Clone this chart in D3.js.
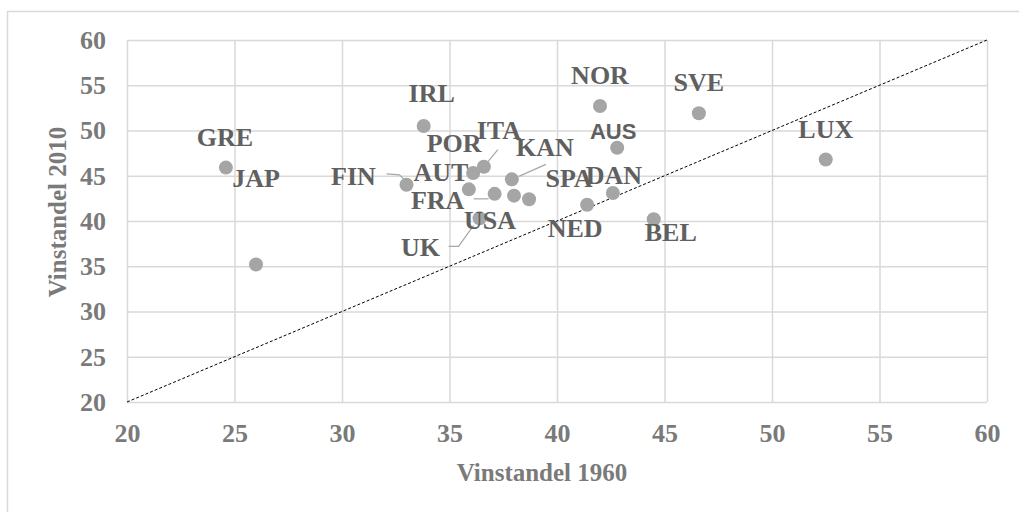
<!DOCTYPE html>
<html>
<head>
<meta charset="utf-8">
<script src="https://cdn.jsdelivr.net/npm/d3@7"></script>
<style>
  body { margin: 0; background: #fff; }
</style>
</head>
<body>
<div id="plot"></div>
<script>
// data
const countries = ['GRE', 'JAP', 'IRL', 'FIN', 'AUT', 'POR', 'ITA', 'KAN', 'FRA', 'USA', 'SPA', 'UK', 'NED', 'DAN', 'AUS', 'NOR', 'SVE', 'BEL', 'LUX'];
const share1960 = [24.6, 26.0, 33.8, 33.0, 35.9, 36.1, 36.6, 37.9, 37.1, 38.0, 38.7, 36.4, 41.4, 42.6, 42.8, 42.0, 46.6, 44.5, 52.5];
const share2010 = [45.9, 35.2, 50.5, 44.0, 43.5, 45.3, 46.0, 44.6, 43.0, 42.8, 42.4, 40.3, 41.8, 43.1, 48.1, 52.7, 51.9, 40.2, 46.8];
const ticks = [20, 25, 30, 35, 40, 45, 50, 55, 60];

// label placement (pixel offset from point, like the manual excel labels)
const labelPos = {
  GRE: [-1, -31], JAP: [0, -87], IRL: [8, -33], FIN: [-53, -9], AUT: [-28, -17],
  POR: [-19, -30], ITA: [15, -37], KAN: [33, -32], FRA: [-57, 6], USA: [-24, 24],
  SPA: [40, -21], UK: [-59, 29], NED: [-12, 23], DAN: [1, -18], AUS: [-4, -16],
  NOR: [0, -31], SVE: [0, -31], BEL: [17, 13], LUX: [0, -31],
};
// leader lines, in pixels relative to the point
const leaders = {
  FIN: [[-20, -11], [-7, -10], [-1, -4]],
  ITA: [[14, -17], [4, -5]],
  KAN: [[34, -15], [7, -3]],
  FRA: [[-21, 5], [-6, 5]],
  UK: [[-31, 28], [-21, 28], [-6, 7]],
};

const width = 1019;
const height = 512;
const margin = { top: 40, right: 32, bottom: 110, left: 127 };
const w = width - margin.left - margin.right;
const h = height - margin.top - margin.bottom;

const svg = d3.select('#plot')
  .append('svg')
  .attr('width', width)
  .attr('height', height);

// outer chart border
svg.append('rect')
  .attr('x', 7.5)
  .attr('y', 11.5)
  .attr('width', 1040)
  .attr('height', 540)
  .attr('fill', 'white')
  .attr('stroke', '#d9d9d9')
  .attr('stroke-width', 1.5);

const g = svg.append('g')
  .attr('transform', `translate(${margin.left},${margin.top})`);

const xScale = d3.scaleLinear().domain([20, 60]).range([0, w]);
const yScale = d3.scaleLinear().domain([20, 60]).range([h, 0]);

// gridlines
const xGrid = d3.axisBottom(xScale).tickValues(ticks).tickSize(-h).tickFormat('');
const yGrid = d3.axisLeft(yScale).tickValues(ticks).tickSize(-w).tickFormat('');

g.append('g')
  .attr('transform', `translate(0,${h})`)
  .call(xGrid)
  .call((a) => a.select('.domain').remove())
  .selectAll('line')
  .attr('stroke', '#d9d9d9')
  .attr('stroke-width', 1.5);

g.append('g')
  .call(yGrid)
  .call((a) => a.select('.domain').remove())
  .selectAll('line')
  .attr('stroke', '#d9d9d9')
  .attr('stroke-width', 1.5);

// tick labels
const tickFont = (sel) => sel
  .attr('fill', '#7a7a7a')
  .attr('font-family', '"Liberation Serif", serif')
  .attr('font-weight', 'bold')
  .attr('font-size', 26);

const xAxis = d3.axisBottom(xScale).tickValues(ticks).tickSize(0).tickPadding(22);
g.append('g')
  .attr('transform', `translate(0,${h})`)
  .call(xAxis)
  .call((a) => a.select('.domain').remove())
  .selectAll('text')
  .call(tickFont);

const yAxis = d3.axisLeft(yScale).tickValues(ticks).tickSize(0).tickPadding(21);
g.append('g')
  .call(yAxis)
  .call((a) => a.select('.domain').remove())
  .selectAll('text')
  .call(tickFont);

// axis titles
g.append('text')
  .attr('x', w / 2 - 15)
  .attr('y', h + 79)
  .attr('text-anchor', 'middle')
  .attr('fill', '#7a7a7a')
  .attr('font-family', '"Liberation Serif", serif')
  .attr('font-weight', 'bold')
  .attr('font-size', 25)
  .text('Vinstandel 1960');

g.append('text')
  .attr('transform', `translate(${-61},${h / 2 - 9}) rotate(-90)`)
  .attr('text-anchor', 'middle')
  .attr('fill', '#7a7a7a')
  .attr('font-family', '"Liberation Serif", serif')
  .attr('font-weight', 'bold')
  .attr('font-size', 25)
  .text('Vinstandel 2010');

// diagonal reference line
g.append('line')
  .attr('x1', xScale(20))
  .attr('y1', yScale(20))
  .attr('x2', xScale(60))
  .attr('y2', yScale(60))
  .attr('stroke', 'black')
  .attr('stroke-width', 1)
  .attr('stroke-dasharray', '3,2');

const data = countries.map((c, i) => ({ name: c, x: share1960[i], y: share2010[i] }));

// leader lines
data.filter((d) => leaders[d.name]).forEach((d) => {
  const px = xScale(d.x);
  const py = yScale(d.y);
  g.append('polyline')
    .attr('points', leaders[d.name].map((p) => `${px + p[0]},${py + p[1]}`).join(' '))
    .attr('fill', 'none')
    .attr('stroke', '#a6a6a6')
    .attr('stroke-width', 1.2);
});

// points
g.selectAll('.dot')
  .data(data)
  .enter()
  .append('circle')
  .attr('class', 'dot')
  .attr('cx', (d) => xScale(d.x))
  .attr('cy', (d) => yScale(d.y))
  .attr('r', 7)
  .attr('fill', '#a5a5a5');

// data labels
g.selectAll('.lbl')
  .data(data)
  .enter()
  .append('text')
  .attr('class', 'lbl')
  .attr('x', (d) => xScale(d.x) + labelPos[d.name][0])
  .attr('y', (d) => yScale(d.y) + labelPos[d.name][1])
  .attr('dy', '0.35em')
  .attr('text-anchor', 'middle')
  .attr('fill', '#606060')
  .attr('font-family', (d) => (d.name === 'AUS' ? '"Liberation Sans", sans-serif' : '"Liberation Serif", serif'))
  .attr('font-weight', 'bold')
  .attr('font-size', (d) => (d.name === 'AUS' ? 22 : 26))
  .text((d) => d.name);
</script>
</body>
</html>
